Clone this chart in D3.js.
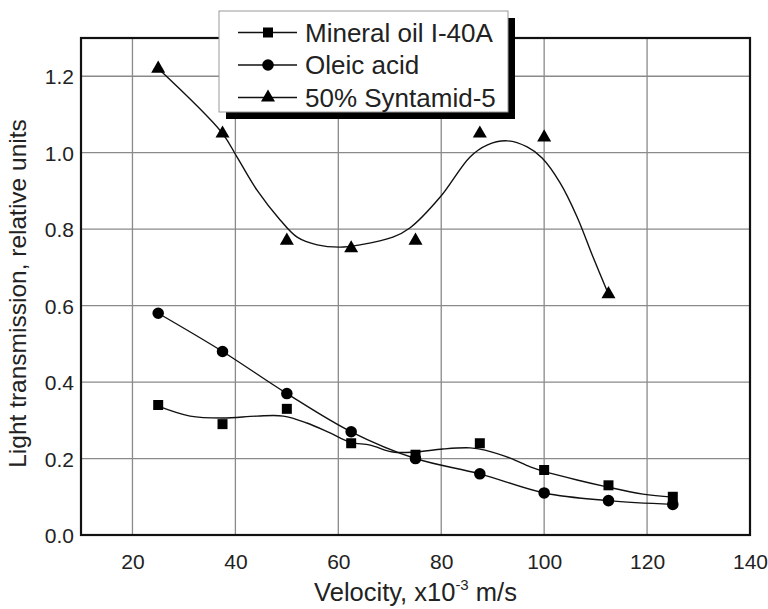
<!DOCTYPE html>
<html>
<head>
<meta charset="utf-8">
<script src="https://cdn.jsdelivr.net/npm/d3@7/dist/d3.min.js"></script>
<style>
html,body{margin:0;padding:0;background:#fff;}
svg{display:block;font-family:"Liberation Sans",Arial,sans-serif;}
</style>
</head>
<body>
<svg id="chart" width="768" height="609"></svg>
<script>
// ---- data ----
const velocity = [25, 37.5, 50, 62.5, 75, 87.5, 100, 112.5, 125];
const mineralOil = [0.34, 0.29, 0.33, 0.24, 0.21, 0.24, 0.17, 0.13, 0.10];
const oleicAcid = [0.58, 0.48, 0.37, 0.27, 0.20, 0.16, 0.11, 0.09, 0.08];
const syntamidX = [25, 37.5, 50, 62.5, 75, 87.5, 100, 112.5];
const syntamid = [1.22, 1.05, 0.77, 0.75, 0.77, 1.05, 1.04, 0.63];

// smoothed fit curves as drawn in the reference
const mineralFitX = [25, 31.2, 37.6, 44.2, 49.3, 53.9, 58.4, 62.3, 66.2, 70.6, 74.9, 80.3, 85.6, 88.5, 93.4, 97.3, 99.8, 106.4, 112.2, 119.2, 125];
const mineralFitY = [0.337, 0.311, 0.306, 0.311, 0.311, 0.293, 0.267, 0.243, 0.235, 0.217, 0.217, 0.225, 0.228, 0.222, 0.201, 0.178, 0.167, 0.144, 0.126, 0.107, 0.099];
const syntamidFitX = [25, 37.4, 40.3, 44.2, 48.7, 52.0, 55.9, 60.3, 64.2, 70.6, 73.9, 79.8, 85.6, 88.9, 92.8, 96.7, 99.6, 103.1, 106.4, 109.5, 112.5];
const syntamidFitY = [1.22, 1.052, 0.989, 0.902, 0.824, 0.779, 0.759, 0.753, 0.759, 0.779, 0.803, 0.884, 0.989, 1.020, 1.031, 1.015, 0.986, 0.921, 0.832, 0.727, 0.63];

const xTicks = [20, 40, 60, 80, 100, 120, 140];
const yTicks = [0.0, 0.2, 0.4, 0.6, 0.8, 1.0, 1.2];
const seriesNames = ["Mineral oil I-40A", "Oleic acid", "50% Syntamid-5"];
const xTitle = "Velocity, x10";
const xTitleSup = "-3";
const xTitleEnd = " m/s";
const yTitle = "Light transmission, relative units";

// ---- layout ----
const mL = 81, mR = 750, mT = 38, mB = 535;
const svg = d3.select("#chart");
const x = d3.scaleLinear().domain([10, 140]).range([mL, mR]);
const y = d3.scaleLinear().domain([0, 1.3]).range([mB, mT]);

// grid
const grid = svg.append("g");
grid.selectAll("line.v").data(xTicks.filter(t => t < 140)).enter().append("line")
  .attr("x1", d => x(d)).attr("x2", d => x(d)).attr("y1", mT).attr("y2", mB)
  .attr("stroke", "#8a8a8a").attr("stroke-width", 1.3);
grid.selectAll("line.h").data(yTicks.filter(t => t > 0)).enter().append("line")
  .attr("x1", mL).attr("x2", mR).attr("y1", d => y(d)).attr("y2", d => y(d))
  .attr("stroke", "#8a8a8a").attr("stroke-width", 1.3);

// axes (labels only, no tick marks)
const xAxis = d3.axisBottom(x).tickValues(xTicks).tickSize(0).tickPadding(0).tickFormat(d3.format("d"));
const gx = svg.append("g").attr("transform", `translate(0,${mB})`).call(xAxis);
gx.select(".domain").remove();
gx.selectAll("text").attr("font-size", 21).attr("fill", "#222").attr("font-family", "Liberation Sans, Arial, sans-serif")
  .attr("y", 34).attr("dy", 0);

const yAxis = d3.axisLeft(y).tickValues(yTicks).tickSize(0).tickPadding(0).tickFormat(d3.format(".1f"));
const gy = svg.append("g").attr("transform", `translate(${mL},0)`).call(yAxis);
gy.select(".domain").remove();
gy.selectAll("text").attr("font-size", 21).attr("fill", "#222").attr("font-family", "Liberation Sans, Arial, sans-serif")
  .attr("x", -7).attr("dy", "0.36em");

// frame
svg.append("rect").attr("x", mL).attr("y", mT).attr("width", mR - mL).attr("height", mB - mT)
  .attr("fill", "none").attr("stroke", "#111").attr("stroke-width", 2.2);

// curves
const line = d3.line().x(d => x(d[0])).y(d => y(d[1])).curve(d3.curveCatmullRom.alpha(0.5));
const curves = svg.append("g").attr("fill", "none").attr("stroke", "#111").attr("stroke-width", 1.4);
curves.append("path").attr("d", line(mineralFitX.map((v, i) => [v, mineralFitY[i]])));
curves.append("path").attr("d", line(velocity.map((v, i) => [v, oleicAcid[i]])));
curves.append("path").attr("d", line(syntamidFitX.map((v, i) => [v, syntamidFitY[i]])));

// markers
const sq = d3.symbol().type(d3.symbolSquare).size(100);
const ci = d3.symbol().type(d3.symbolCircle).size(105);
const tr = d3.symbol().type(d3.symbolTriangle).size(85);
const marks = svg.append("g").attr("fill", "#000");
marks.selectAll("path.sq").data(velocity.map((v, i) => [v, mineralOil[i]])).enter().append("path")
  .attr("d", sq).attr("transform", d => `translate(${x(d[0])},${y(d[1])})`);
marks.selectAll("path.ci").data(velocity.map((v, i) => [v, oleicAcid[i]])).enter().append("path")
  .attr("d", ci).attr("transform", d => `translate(${x(d[0])},${y(d[1])})`);
marks.selectAll("path.tr").data(syntamidX.map((v, i) => [v, syntamid[i]])).enter().append("path")
  .attr("d", tr).attr("transform", d => `translate(${x(d[0])},${y(d[1])})`);

// legend
const lg = svg.append("g");
lg.append("rect").attr("x", 226).attr("y", 18).attr("width", 289).attr("height", 101).attr("fill", "#000");
lg.append("rect").attr("x", 219).attr("y", 11).attr("width", 289).attr("height", 101)
  .attr("fill", "#fff").attr("stroke", "#999").attr("stroke-width", 1);
const symbols = [sq, ci, tr];
const rowY = [32.5, 65, 97.5];
seriesNames.forEach((name, i) => {
  lg.append("line").attr("x1", 238).attr("x2", 297).attr("y1", rowY[i]).attr("y2", rowY[i])
    .attr("stroke", "#111").attr("stroke-width", 1.4);
  lg.append("path").attr("d", symbols[i]).attr("transform", `translate(268,${rowY[i]})`).attr("fill", "#000");
  lg.append("text").attr("x", 305).attr("y", rowY[i]).attr("dy", "0.36em")
    .attr("font-size", 26).attr("fill", "#222").text(name);
});

// axis titles
const xt = svg.append("text").attr("x", (mL + mR) / 2).attr("y", 601).attr("text-anchor", "middle")
  .attr("font-size", 25.5).attr("fill", "#222");
xt.append("tspan").text(xTitle);
xt.append("tspan").attr("font-size", 15).attr("dy", -11).text(xTitleSup);
xt.append("tspan").attr("dy", 11).text(xTitleEnd);

svg.append("text").attr("transform", `translate(26,${(mT + mB) / 2 + 7}) rotate(-90)`)
  .attr("text-anchor", "middle").attr("font-size", 24.5).attr("fill", "#222").text(yTitle);
</script>
</body>
</html>
